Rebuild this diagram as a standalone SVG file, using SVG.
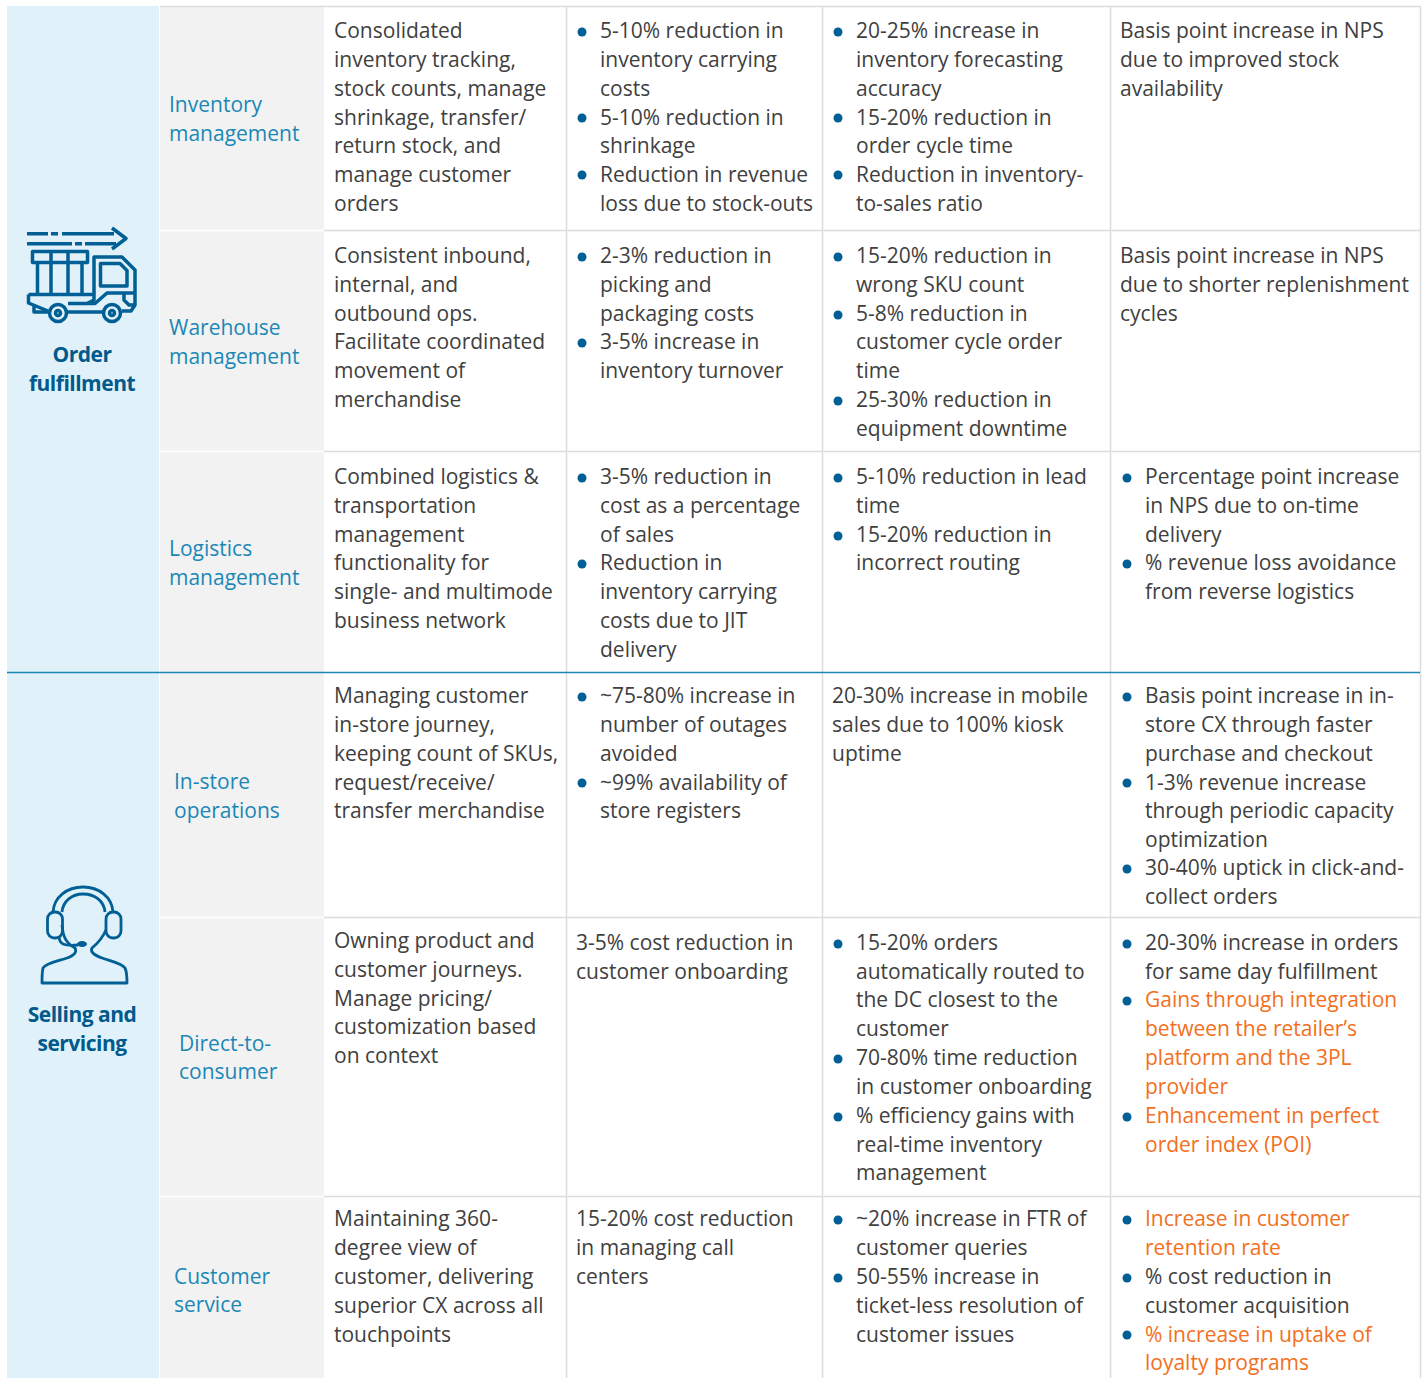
<svg xmlns="http://www.w3.org/2000/svg" width="1428" height="1378" viewBox="0 0 1428 1378">
<style>
text{font-family:"Open Sans","Noto Sans","Liberation Sans",sans-serif;font-size:21px;fill:#404040}
.o{fill:#f36f21}
.l{fill:#1b87b6}
.h{fill:#005a8c;font-weight:700;letter-spacing:-.5px;text-anchor:middle}
.ln{stroke:#dcdcdc;stroke-width:1.5;fill:none}
.ic{stroke:#005f94;fill:none;stroke-linejoin:round}
.d{fill:#005f94}
</style>
<rect width="1428" height="1378" fill="#fff"/>
<rect x="7" y="6" width="152" height="1372" fill="#e0f1fa"/>
<rect x="160" y="6" width="164" height="1372" fill="#f2f2f2"/>
<g id="connectors">
<path class="ln" d="M160 6.500H1420M324 230.500H1420M324 451.500H1420M324 917.500H1420M324 1196.500H1420M566.500 6V1378M822.500 6V1378M1110.500 6V1378M1420.500 6V1378"/>
<path d="M160 230.500H324M160 451.500H324M160 917.500H324M160 1196.500H324" stroke="#fff" stroke-width="1.500"/>
<path d="M7 672.500H1420" stroke="#1b87b6" stroke-width="1.500"/>
</g>
<g id="order-fulfillment">
<g class="ic" stroke-width="3.500">
<path d="M27 233.700H48M51 233.700H58M62 233.700H114M27 243.700H72M75 243.700H82M85 243.700H116"/>
<path d="M112 228L126 238.500L112 249"/>
<rect x="32.500" y="251.500" width="55" height="11"/>
<path d="M37.500 263V294M51 252V294M68 252V294M82 263V294"/>
<path d="M94 294V257H122L135 270V305L131 311H122M103 312H67M49 312H34V305"/>
<path d="M28.500 294.500H94V300L87 303.500H68M28.500 294.500V303L48 311"/>
<path d="M100.500 263.500H120L127 270.500V286H100.500Z"/>
<path d="M135 293H107L95 303.500H87M124 293V300L129 305H135"/>
<circle cx="58" cy="313" r="8.500"/><circle cx="112" cy="313" r="8.500"/>
<circle cx="58" cy="313" r="2.500"/><circle cx="112" cy="313" r="2.500"/>
</g>
<text class="h" x="82" y="362">Order</text>
<text class="h" x="82" y="391">fulfillment</text>
</g>
<g id="selling-and-servicing">
<g class="ic" stroke-width="2.800">
<path d="M53 912C54 897 67 887 83 887C99 887 112 897 113 912"/>
<path d="M62 912C63 901 72 894 83 894C95 894 104 901 105 912"/>
<rect x="47.500" y="912" width="15" height="26" rx="7"/>
<rect x="106" y="912" width="15" height="26" rx="7"/>
<path d="M62 925C63 937 66 943 75 948C77 952 75 955 67 958C58 961 46 963 43 968C42 972 42 976 42 983H127C127 976 127 972 125 968C122 963 110 961 102 958C94 955 90 952 92 948C98 943 103 937 106 930"/>
<path d="M59 936C59 945 65 946 78 945"/>
</g>
<ellipse class="d" cx="82" cy="944" rx="5" ry="3"/>
<text class="h" x="82" y="1022">Selling and</text>
<text class="h" x="82" y="1051">servicing</text>
</g>
<g id="inventory-management">
<text class="l" x="169" y="112">Inventory</text><text class="l" x="169" y="141">management</text>
<text x="334" y="38">Consolidated</text><text x="334" y="67">inventory tracking,</text><text x="334" y="96">stock counts, manage</text><text x="334" y="125">shrinkage, transfer/</text><text x="334" y="153">return stock, and</text><text x="334" y="182">manage customer</text><text x="334" y="211">orders</text>
<circle class="d" cx="582" cy="32" r="4.500"/><circle class="d" cx="582" cy="118" r="4.500"/><circle class="d" cx="582" cy="175" r="4.500"/>
<text x="600" y="38">5-10% reduction in</text><text x="600" y="67">inventory carrying</text><text x="600" y="96">costs</text><text x="600" y="125">5-10% reduction in</text><text x="600" y="153">shrinkage</text><text x="600" y="182">Reduction in revenue</text><text x="600" y="211">loss due to stock-outs</text>
<circle class="d" cx="838" cy="32" r="4.500"/><circle class="d" cx="838" cy="118" r="4.500"/><circle class="d" cx="838" cy="175" r="4.500"/>
<text x="856" y="38">20-25% increase in</text><text x="856" y="67">inventory forecasting</text><text x="856" y="96">accuracy</text><text x="856" y="125">15-20% reduction in</text><text x="856" y="153">order cycle time</text><text x="856" y="182">Reduction in inventory-</text><text x="856" y="211">to-sales ratio</text>
<text x="1120" y="38">Basis point increase in NPS</text><text x="1120" y="67">due to improved stock</text><text x="1120" y="96">availability</text>
</g>
<g id="warehouse-management">
<text class="l" x="169" y="335">Warehouse</text><text class="l" x="169" y="364">management</text>
<text x="334" y="263">Consistent inbound,</text><text x="334" y="292">internal, and</text><text x="334" y="321">outbound ops.</text><text x="334" y="349">Facilitate coordinated</text><text x="334" y="378">movement of</text><text x="334" y="407">merchandise</text>
<circle class="d" cx="582" cy="257" r="4.500"/><circle class="d" cx="582" cy="343" r="4.500"/>
<text x="600" y="263">2-3% reduction in</text><text x="600" y="292">picking and</text><text x="600" y="321">packaging costs</text><text x="600" y="349">3-5% increase in</text><text x="600" y="378">inventory turnover</text>
<circle class="d" cx="838" cy="257" r="4.500"/><circle class="d" cx="838" cy="315" r="4.500"/><circle class="d" cx="838" cy="401" r="4.500"/>
<text x="856" y="263">15-20% reduction in</text><text x="856" y="292">wrong SKU count</text><text x="856" y="321">5-8% reduction in</text><text x="856" y="349">customer cycle order</text><text x="856" y="378">time</text><text x="856" y="407">25-30% reduction in</text><text x="856" y="436">equipment downtime</text>
<text x="1120" y="263">Basis point increase in NPS</text><text x="1120" y="292">due to shorter replenishment</text><text x="1120" y="321">cycles</text>
</g>
<g id="logistics-management">
<text class="l" x="169" y="556">Logistics</text><text class="l" x="169" y="585">management</text>
<text x="334" y="484">Combined logistics &amp;</text><text x="334" y="513">transportation</text><text x="334" y="542">management</text><text x="334" y="570">functionality for</text><text x="334" y="599">single- and multimode</text><text x="334" y="628">business network</text>
<circle class="d" cx="582" cy="478" r="4.500"/><circle class="d" cx="582" cy="564" r="4.500"/>
<text x="600" y="484">3-5% reduction in</text><text x="600" y="513">cost as a percentage</text><text x="600" y="542">of sales</text><text x="600" y="570">Reduction in</text><text x="600" y="599">inventory carrying</text><text x="600" y="628">costs due to JIT</text><text x="600" y="657">delivery</text>
<circle class="d" cx="838" cy="478" r="4.500"/><circle class="d" cx="838" cy="536" r="4.500"/>
<text x="856" y="484">5-10% reduction in lead</text><text x="856" y="513">time</text><text x="856" y="542">15-20% reduction in</text><text x="856" y="570">incorrect routing</text>
<circle class="d" cx="1127" cy="478" r="4.500"/><circle class="d" cx="1127" cy="564" r="4.500"/>
<text x="1145" y="484">Percentage point increase</text><text x="1145" y="513">in NPS due to on-time</text><text x="1145" y="542">delivery</text><text x="1145" y="570">% revenue loss avoidance</text><text x="1145" y="599">from reverse logistics</text>
</g>
<g id="in-store-operations">
<text class="l" x="174" y="789">In-store</text><text class="l" x="174" y="818">operations</text>
<text x="334" y="703">Managing customer</text><text x="334" y="732">in-store journey,</text><text x="334" y="761">keeping count of SKUs,</text><text x="334" y="790">request/receive/</text><text x="334" y="818">transfer merchandise</text>
<circle class="d" cx="582" cy="697" r="4.500"/><circle class="d" cx="582" cy="783" r="4.500"/>
<text x="600" y="703">~75-80% increase in</text><text x="600" y="732">number of outages</text><text x="600" y="761">avoided</text><text x="600" y="790">~99% availability of</text><text x="600" y="818">store registers</text>
<text x="832" y="703">20-30% increase in mobile</text><text x="832" y="732">sales due to 100% kiosk</text><text x="832" y="761">uptime</text>
<circle class="d" cx="1127" cy="697" r="4.500"/><circle class="d" cx="1127" cy="783" r="4.500"/><circle class="d" cx="1127" cy="869" r="4.500"/>
<text x="1145" y="703">Basis point increase in in-</text><text x="1145" y="732">store CX through faster</text><text x="1145" y="761">purchase and checkout</text><text x="1145" y="790">1-3% revenue increase</text><text x="1145" y="818">through periodic capacity</text><text x="1145" y="847">optimization</text><text x="1145" y="875">30-40% uptick in click-and-</text><text x="1145" y="904">collect orders</text>
</g>
<g id="direct-to-consumer">
<text class="l" x="179" y="1051">Direct-to-</text><text class="l" x="179" y="1079">consumer</text>
<text x="334" y="948">Owning product and</text><text x="334" y="977">customer journeys.</text><text x="334" y="1006">Manage pricing/</text><text x="334" y="1034">customization based</text><text x="334" y="1063">on context</text>
<text x="576" y="950">3-5% cost reduction in</text><text x="576" y="979">customer onboarding</text>
<circle class="d" cx="838" cy="944" r="4.500"/><circle class="d" cx="838" cy="1059" r="4.500"/><circle class="d" cx="838" cy="1117" r="4.500"/>
<text x="856" y="950">15-20% orders</text><text x="856" y="979">automatically routed to</text><text x="856" y="1007">the DC closest to the</text><text x="856" y="1036">customer</text><text x="856" y="1065">70-80% time reduction</text><text x="856" y="1094">in customer onboarding</text><text x="856" y="1123">% efficiency gains with</text><text x="856" y="1152">real-time inventory</text><text x="856" y="1180">management</text>
<circle class="d" cx="1127" cy="944" r="4.500"/><circle class="d" cx="1127" cy="1001" r="4.500"/><circle class="d" cx="1127" cy="1117" r="4.500"/>
<text x="1145" y="950">20-30% increase in orders</text><text x="1145" y="979">for same day fulfillment</text><text class="o" x="1145" y="1007">Gains through integration</text><text class="o" x="1145" y="1036">between the retailer’s</text><text class="o" x="1145" y="1065">platform and the 3PL</text><text class="o" x="1145" y="1094">provider</text><text class="o" x="1145" y="1123">Enhancement in perfect</text><text class="o" x="1145" y="1152">order index (POI)</text>
</g>
<g id="customer-service">
<text class="l" x="174" y="1284">Customer</text><text class="l" x="174" y="1312">service</text>
<text x="334" y="1226">Maintaining 360-</text><text x="334" y="1255">degree view of</text><text x="334" y="1284">customer, delivering</text><text x="334" y="1313">superior CX across all</text><text x="334" y="1342">touchpoints</text>
<text x="576" y="1226">15-20% cost reduction</text><text x="576" y="1255">in managing call</text><text x="576" y="1284">centers</text>
<circle class="d" cx="838" cy="1220" r="4.500"/><circle class="d" cx="838" cy="1278" r="4.500"/>
<text x="856" y="1226">~20% increase in FTR of</text><text x="856" y="1255">customer queries</text><text x="856" y="1284">50-55% increase in</text><text x="856" y="1313">ticket-less resolution of</text><text x="856" y="1342">customer issues</text>
<circle class="d" cx="1127" cy="1220" r="4.500"/><circle class="d" cx="1127" cy="1278" r="4.500"/><circle class="d" cx="1127" cy="1335" r="4.500"/>
<text class="o" x="1145" y="1226">Increase in customer</text><text class="o" x="1145" y="1255">retention rate</text><text x="1145" y="1284">% cost reduction in</text><text x="1145" y="1313">customer acquisition</text><text class="o" x="1145" y="1342">% increase in uptake of</text><text class="o" x="1145" y="1370">loyalty programs</text>
</g>
</svg>
